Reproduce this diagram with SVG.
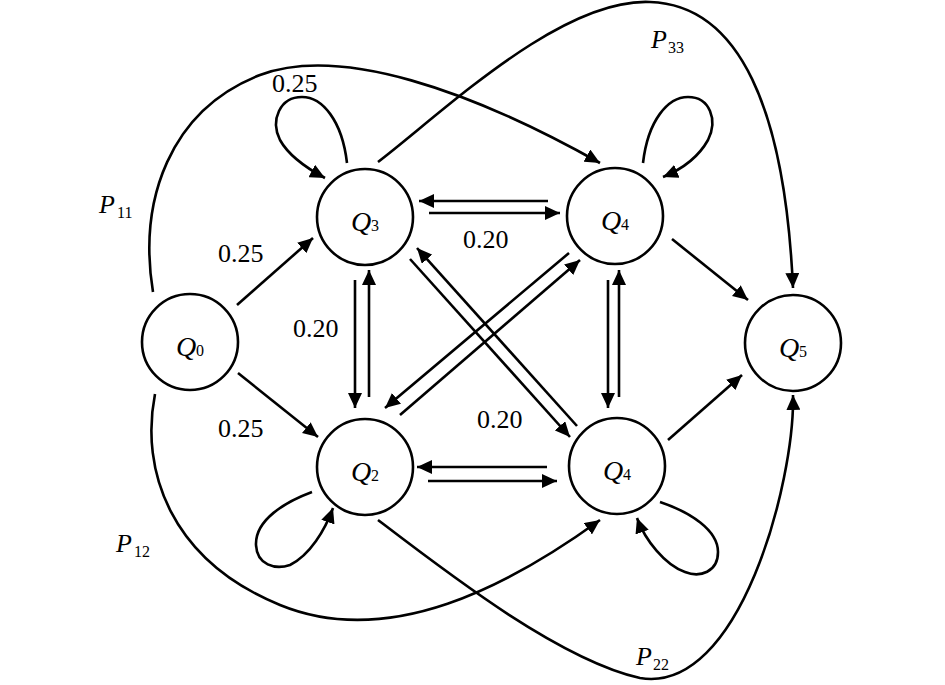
<svg xmlns="http://www.w3.org/2000/svg" width="945" height="685" viewBox="0 0 945 685">
<style>
.node{fill:#fff;stroke:#000;stroke-width:2.6}
.e{fill:none;stroke:#000;stroke-width:2.6;marker-end:url(#ah)}
.q{font-family:"Liberation Serif",serif;font-style:italic;font-size:28px}
.s{font-family:"Liberation Serif",serif;font-size:16px}
.p{font-family:"Liberation Serif",serif;font-style:italic;font-size:26px}
.n{font-family:"Liberation Serif",serif;font-size:26px}
</style>
<defs>
<marker id="ah" markerUnits="userSpaceOnUse" markerWidth="16" markerHeight="14" refX="15" refY="7" orient="auto">
<path d="M0,0 L15,7 L0,14 z" fill="#000"/>
</marker>
</defs>
<rect width="945" height="685" fill="#fff"/>
<g id="connectors">
<path class="e" d="M153,292 C138,200 170,110 260,75 C340,45 470,90 600,163"/>
<path class="e" d="M155,394 C140,470 170,560 280,605 C390,650 510,585 600,520"/>
<path class="e" d="M378,520 C450,575 560,660 640,678 C740,695 795,480 793,395"/>
<path class="e" d="M378,162 C440,115 560,-2 650,2 C740,5 785,110 793,288"/>
<path class="e" d="M347,163 C342,120 322,97 302,97 C280,97 270,120 280,140 C290,158 310,170 325,178"/>
<path class="e" d="M643,163 C648,120 668,97 688,97 C710,97 718,120 708,140 C698,158 680,170 663,177"/>
<path class="e" d="M312,492 C285,502 255,520 256,545 C257,565 275,570 290,565 C310,555 325,530 333,508"/>
<path class="e" d="M660,502 C690,512 718,530 718,552 C718,572 700,578 685,572 C665,565 645,540 637,518"/>
<path class="e" d="M237,305 L313,238"/>
<path class="e" d="M238,373 L318,437"/>
<path class="e" d="M548,201 L419,201"/>
<path class="e" d="M429,213 L560,213"/>
<path class="e" d="M355,280 L355,408"/>
<path class="e" d="M369,397 L369,270"/>
<path class="e" d="M608,280 L608,408"/>
<path class="e" d="M619,397 L619,270"/>
<path class="e" d="M547,467 L417,467"/>
<path class="e" d="M428,481 L557,481"/>
<path class="e" d="M410,259 L570,437"/>
<path class="e" d="M577,426 L417,248"/>
<path class="e" d="M400,415 L580,260"/>
<path class="e" d="M569,253 L385,408"/>
<path class="e" d="M672,239 L748,300"/>
<path class="e" d="M668,440 L742,375"/>
</g>
<g id="labels">
<text class="n" x="272" y="92">0.25</text>
<text class="n" x="218" y="262">0.25</text>
<text class="n" x="218" y="437">0.25</text>
<text class="n" x="463" y="248">0.20</text>
<text class="n" x="293" y="337">0.20</text>
<text class="n" x="477" y="428">0.20</text>
<text class="p" x="99" y="213">P</text><text class="s" x="117" y="218">11</text>
<text class="p" x="116" y="552">P</text><text class="s" x="134" y="557">12</text>
<text class="p" x="636" y="665">P</text><text class="s" x="653" y="670">22</text>
<text class="p" x="651" y="48">P</text><text class="s" x="668" y="53">33</text>
</g>
<g id="Q0"><circle class="node" cx="190" cy="342" r="48"/><text x="190" y="356" text-anchor="middle"><tspan class="q">Q</tspan><tspan class="s">0</tspan></text></g>
<g id="Q3"><circle class="node" cx="365" cy="217" r="48"/><text x="365" y="231" text-anchor="middle"><tspan class="q">Q</tspan><tspan class="s">3</tspan></text></g>
<g id="Q4a"><circle class="node" cx="615" cy="216" r="48"/><text x="615" y="230" text-anchor="middle"><tspan class="q">Q</tspan><tspan class="s">4</tspan></text></g>
<g id="Q2"><circle class="node" cx="365" cy="467" r="48"/><text x="365" y="481" text-anchor="middle"><tspan class="q">Q</tspan><tspan class="s">2</tspan></text></g>
<g id="Q4b"><circle class="node" cx="617" cy="466" r="48"/><text x="617" y="480" text-anchor="middle"><tspan class="q">Q</tspan><tspan class="s">4</tspan></text></g>
<g id="Q5"><circle class="node" cx="793" cy="343" r="48"/><text x="793" y="357" text-anchor="middle"><tspan class="q">Q</tspan><tspan class="s">5</tspan></text></g>
</svg>
